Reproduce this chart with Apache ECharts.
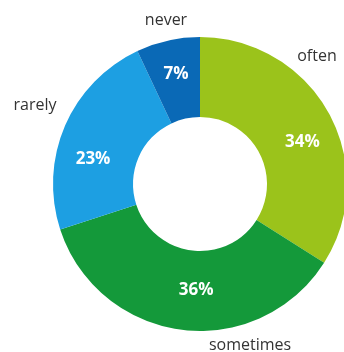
<!DOCTYPE html>
<html>
<head>
<meta charset="utf-8">
<script src="https://cdn.jsdelivr.net/npm/echarts@6/dist/echarts.min.js"></script>
<style>
  html, body { margin: 0; padding: 0; background: #fff; }
  #frequenza { width: 344px; height: 352px; }
</style>
</head>
<body>
<div id="frequenza"></div>
<script>
var categories = ['often', 'sometimes', 'rarely', 'never'];
var values = [34, 36, 23, 7];
var sliceColors = ['#9bc31b', '#14993a', '#1d9fe2', '#0a69b6'];

// nudges for the percent labels, and spots for the category names
var pctShift = {
    often: [6, 11],
    sometimes: [10, -3],
    rarely: [-6, 19],
    never: [0, -2]
};
var nameSpot = {
    often: [317, 56],
    sometimes: [250, 345],
    rarely: [35, 105],
    never: [166, 20]
};

var chart = echarts.init(document.getElementById('frequenza'));

var pieData = categories.map(function (c, i) {
    return { name: c, value: values[i], itemStyle: { color: sliceColors[i] } };
});

var option = {
    animation: false,
    series: [{
        type: 'pie',
        center: [200, 184],
        radius: [67, 147],
        startAngle: 90,
        clockwise: true,
        z: 2,
        itemStyle: { borderWidth: 0 },
        label: {
            show: true,
            position: 'inside',
            formatter: '{c}%',
            color: '#ffffff',
            fontFamily: 'Open Sans',
            fontWeight: 'bold',
            fontSize: 17
        },
        labelLine: { show: false },
        labelLayout: function (p) {
            var s = pctShift[categories[p.dataIndex]];
            return { dx: s[0], dy: s[1] };
        },
        data: pieData
    }, {
        // second ring only carries the category names
        type: 'pie',
        center: [200, 184],
        radius: [67, 147],
        startAngle: 90,
        silent: true,
        z: 1,
        itemStyle: { color: 'transparent' },
        label: {
            show: true,
            position: 'outside',
            formatter: '{b}',
            color: '#333333',
            fontFamily: 'Open Sans',
            fontSize: 16,
            overflow: 'none',
            width: 120
        },
        labelLine: { show: false },
        labelLayout: function (p) {
            var s = nameSpot[categories[p.dataIndex]];
            return { x: s[0], y: s[1], align: 'center', verticalAlign: 'middle' };
        },
        data: categories.map(function (c, i) {
            return { name: c, value: values[i] };
        })
    }]
};
chart.setOption(option);
window.onresize = function () {
    chart.resize();
};
</script>
</body>
</html>
